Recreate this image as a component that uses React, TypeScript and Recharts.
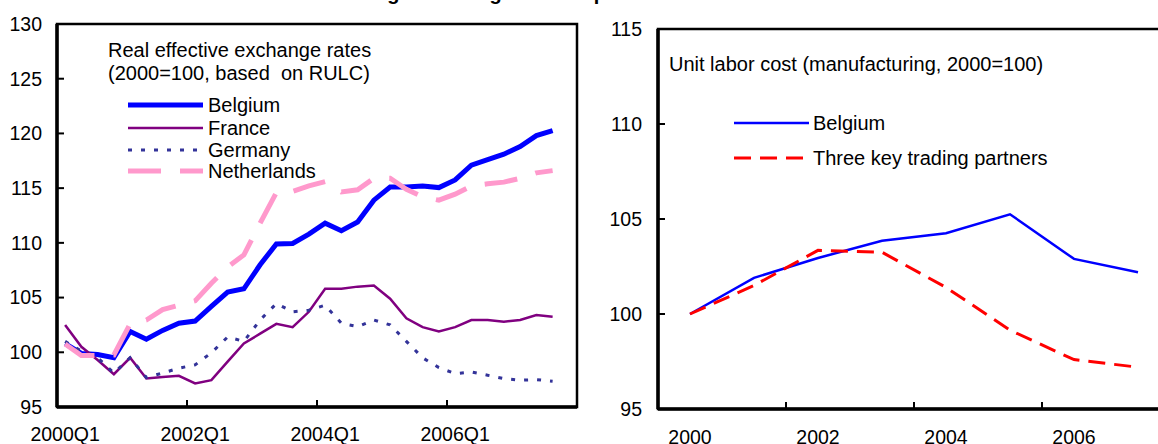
import React from "react";
import { LineChart, Line, XAxis, YAxis, ReferenceArea, Legend } from "recharts";

const FONT = "Arial, 'Liberation Sans', Helvetica, sans-serif";
const FS = 19.5;
const LFS = 20;

// categories
const years = [2000, 2001, 2002, 2003, 2004, 2005, 2006, 2007];
const quarterNames = ["Q1", "Q2", "Q3", "Q4"];
// 2000Q1 .. 2007Q3 (32 slots on the axis, last one empty)
const quarters = years.flatMap((y) => quarterNames.map((q) => `${y}${q}`)).slice(0, 31);

// real effective exchange rates, 2000=100
const reerBelgium = [
  100.8, 99.9, 99.8, 99.5, 101.9, 101.2, 102.0, 102.65, 102.85, 104.2, 105.5, 105.8,
  108.0, 109.9, 109.95, 110.8, 111.8, 111.1, 111.9, 113.9, 115.1, 115.1, 115.2, 115.05,
  115.75, 117.1, 117.6, 118.1, 118.8, 119.8, 120.25,
];
const reerFrance = [
  102.5, 100.5, 99.3, 98.0, 99.5, 97.6, 97.75, 97.85, 97.15, 97.45, 99.15, 100.8,
  101.7, 102.6, 102.3, 103.7, 105.8, 105.8, 106.0, 106.1, 104.9, 103.1, 102.3, 101.9,
  102.3, 102.95, 102.95, 102.8, 102.95, 103.4, 103.25,
];
const reerGermany = [
  101.0, 100.1, 99.5, 98.1, 99.5, 97.7, 98.1, 98.55, 98.85, 99.95, 101.4, 101.0,
  102.95, 104.45, 103.7, 103.85, 104.3, 102.65, 102.35, 102.95, 102.5, 101.0, 99.5, 98.6,
  98.05, 98.2, 97.9, 97.6, 97.45, 97.5, 97.35,
];
const reerNetherlands = [
  100.75, 99.7, 99.7, 99.75, 102.6, 102.95, 103.9, 104.3, 104.7, 106.3, 107.8, 108.9,
  111.8, 114.6, 114.7, 115.2, 115.6, 114.65, 114.85, 115.9, 115.9, 114.9, 114.2, 113.9,
  114.45, 115.2, 115.4, 115.55, 115.9, 116.4, 116.6,
];
const reerXTicks = [0, 8, 16, 24];
const reerYTicks = [95, 100, 105, 110, 115, 120, 125, 130];

// unit labor cost, manufacturing, 2000=100
const ulcBelgium = [100, 101.9, 102.95, 103.85, 104.25, 105.25, 102.9, 102.2];
const ulcPartners = [100, 101.5, 103.35, 103.25, 101.4, 99.15, 97.6, 97.2];
const ulcXTicks = [2000, 2002, 2004, 2006];
const ulcYTicks = [95, 100, 105, 110, 115];

const reerData = quarters.map((q, i) => ({
  i,
  q,
  belgium: reerBelgium[i],
  france: reerFrance[i],
  germany: reerGermany[i],
  netherlands: reerNetherlands[i],
}));

const ulcData = years.map((year, k) => ({
  year,
  belgium: ulcBelgium[k],
  partners: ulcPartners[k],
}));

const reerSeries = [
  { key: "belgium", name: "Belgium", color: "#0000FF", width: 5, dash: undefined },
  { key: "france", name: "France", color: "#800080", width: 2.5, dash: undefined },
  { key: "germany", name: "Germany", color: "#333399", width: 3, dash: "4 9" },
  { key: "netherlands", name: "Netherlands", color: "#FF99CC", width: 5, dash: "33 19" },
];

const ulcSeries = [
  { key: "belgium", name: "Belgium", color: "#0000FF", width: 2.5, dash: undefined },
  { key: "partners", name: "Three key trading partners", color: "#FF0000", width: 3, dash: "17 9" },
];

// tick line sits on the band boundary, label on the band centre
function BandTick(props: any) {
  const { x, y, payload, half, labelOf, gap } = props;
  return (
    <g>
      <line x1={x - half} x2={x - half} y1={y} y2={y - 7} stroke="#000" strokeWidth={2} />
      <text x={x} y={y + gap} textAnchor="middle" fontSize={FS} fontFamily={FONT} fill="#000">
        {labelOf(payload.value)}
      </text>
    </g>
  );
}

function ReerLegend() {
  const rowY = [75, 98, 120, 141];
  return (
    <svg width={320} height={160} style={{ display: "block", fontFamily: FONT }}>
      <text x={8} y={27} fontSize={LFS} fill="#000">
        Real effective exchange rates
      </text>
      <text x={8} y={50} fontSize={LFS} fill="#000" style={{ whiteSpace: "pre" }}>
        (2000=100, based  on RULC)
      </text>
      {reerSeries.map((s, k) => (
        <g key={s.key}>
          <line
            x1={28}
            x2={103}
            y1={rowY[k]}
            y2={rowY[k]}
            stroke={s.color}
            strokeWidth={s.width}
            strokeDasharray={s.dash}
          />
          <text x={108} y={rowY[k] + 7} fontSize={LFS} fill="#000">
            {s.name}
          </text>
        </g>
      ))}
    </svg>
  );
}

function UlcLegend() {
  const rowY = [83, 118];
  return (
    <svg width={420} height={140} style={{ display: "block", fontFamily: FONT }}>
      <text x={9} y={31} fontSize={LFS} fill="#000">
        Unit labor cost (manufacturing, 2000=100)
      </text>
      {ulcSeries.map((s, k) => (
        <g key={s.key}>
          <line
            x1={74}
            x2={149}
            y1={rowY[k]}
            y2={rowY[k]}
            stroke={s.color}
            strokeWidth={s.width}
            strokeDasharray={s.dash}
          />
          <text x={153} y={rowY[k] + 7} fontSize={LFS} fill="#000">
            {s.name}
          </text>
        </g>
      ))}
    </svg>
  );
}

const yTick = { fontSize: FS, fill: "#000", fontFamily: FONT };
const axisLine = { stroke: "#000", strokeWidth: 3.5 };

export default function App() {
  return (
    <div
      style={{
        position: "relative",
        width: 1158,
        height: 444,
        overflow: "hidden",
        background: "#fff",
        fontFamily: FONT,
      }}
    >
      <style>{`body{margin:0}`}</style>
      <div
        style={{
          position: "absolute",
          top: -17,
          left: 0,
          width: 1180,
          textAlign: "center",
          fontWeight: "bold",
          fontSize: 20,
          lineHeight: "20px",
        }}
      >
        Figure 8. Belgium: Competitiveness Indicators
      </div>

      <div style={{ position: "absolute", left: 0, top: 0 }}>
        <LineChart width={590} height={444} data={reerData} margin={{ top: 24, right: 13, bottom: 0, left: 0 }}>
          <ReferenceArea x1={-0.5} x2={31.5} y1={95} y2={130} fill="none" stroke="#000" strokeWidth={2.5} />
          <XAxis
            dataKey="i"
            type="number"
            domain={[-0.5, 31.5]}
            ticks={reerXTicks}
            interval={0}
            height={37}
            tickSize={0}
            tickMargin={0}
            tickLine={false}
            axisLine={axisLine}
            tick={<BandTick half={520 / 32 / 2} gap={34} labelOf={(v: number) => quarters[v]} />}
          />
          <YAxis
            type="number"
            domain={[95, 130]}
            ticks={reerYTicks}
            interval={0}
            width={57}
            tickSize={-7}
            tickMargin={22}
            tickLine={{ stroke: "#000", strokeWidth: 2 }}
            axisLine={axisLine}
            tick={yTick}
          />
          {reerSeries.map((s) => (
            <Line
              key={s.key}
              dataKey={s.key}
              name={s.name}
              type="linear"
              stroke={s.color}
              strokeWidth={s.width}
              strokeDasharray={s.dash}
              dot={false}
              activeDot={false}
              isAnimationActive={false}
            />
          ))}
          <Legend
            layout="vertical"
            align="center"
            verticalAlign="middle"
            wrapperStyle={{ top: 30, left: 100, width: 320, height: 160 }}
            content={() => <ReerLegend />}
          />
        </LineChart>
      </div>

      <div style={{ position: "absolute", left: 590, top: 0 }}>
        <LineChart width={580} height={444} data={ulcData} margin={{ top: 29, right: 0, bottom: 0, left: 0 }}>
          <ReferenceArea x1={1999.5} x2={2007.5} y1={95} y2={115} fill="none" stroke="#000" strokeWidth={2.5} />
          <XAxis
            dataKey="year"
            type="number"
            domain={[1999.5, 2007.5]}
            ticks={ulcXTicks}
            interval={0}
            height={35}
            tickSize={0}
            tickMargin={0}
            tickLine={false}
            axisLine={axisLine}
            tick={<BandTick half={512 / 8 / 2} gap={34.5} labelOf={(v: number) => String(v)} />}
          />
          <YAxis
            type="number"
            domain={[95, 115]}
            ticks={ulcYTicks}
            interval={0}
            width={68}
            tickSize={-7}
            tickMargin={23}
            tickLine={{ stroke: "#000", strokeWidth: 2 }}
            axisLine={axisLine}
            tick={yTick}
          />
          {ulcSeries.map((s) => (
            <Line
              key={s.key}
              dataKey={s.key}
              name={s.name}
              type="linear"
              stroke={s.color}
              strokeWidth={s.width}
              strokeDasharray={s.dash}
              dot={false}
              activeDot={false}
              isAnimationActive={false}
            />
          ))}
          <Legend
            layout="vertical"
            align="center"
            verticalAlign="middle"
            wrapperStyle={{ top: 40, left: 70, width: 420, height: 140 }}
            content={() => <UlcLegend />}
          />
        </LineChart>
      </div>
    </div>
  );
}
